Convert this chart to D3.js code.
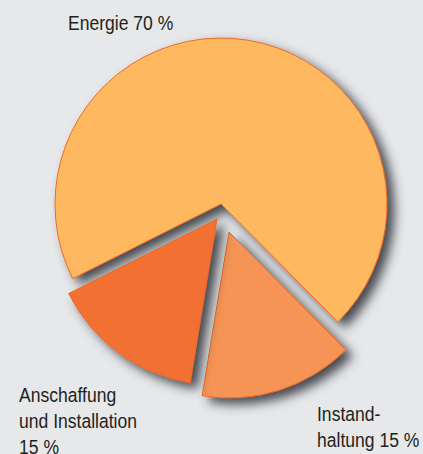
<!DOCTYPE html>
<html>
<head>
<meta charset="utf-8">
<script src="https://cdn.jsdelivr.net/npm/d3@7"></script>
<style>
  html,body{margin:0;padding:0;background:#e7e8ea;}
  svg{display:block;}
</style>
</head>
<body>
<svg id="chart"></svg>
<script>
// data
var categories = ['Energie', 'Instandhaltung', 'Anschaffung und Installation'];
var shares = [70, 15, 15];
var labelLines = [
  ['Energie 70 %'],
  ['Instand-', 'haltung 15 %'],
  ['Anschaffung', 'und Installation', '15 %']
];

// layout
var width = 423, height = 454;
var cx = 221, cy = 204, radius = 166;
var startDeg = -116.7;
var colors = ['#fdb860', '#f69454', '#f17032'];
// how far each slice is pulled out of the pie
var explode = [[0, 0], [8, 28], [-4, 15]];
var labelPos = [[68, 30], [317, 421], [19, 402]];
var lineH = 26;
var squeeze = 0.9; // condensed look, no narrow font installed

var svg = d3.select('#chart')
  .attr('width', width)
  .attr('height', height);

var defs = svg.append('defs');
var flt = defs.append('filter')
  .attr('id', 'shadow')
  .attr('x', '-20%').attr('y', '-20%')
  .attr('width', '150%').attr('height', '150%');
flt.append('feDropShadow')
  .attr('dx', 7).attr('dy', 6)
  .attr('stdDeviation', 5.5)
  .attr('flood-color', '#34373e')
  .attr('flood-opacity', 0.9);

var pie = d3.pie()
  .sort(null)
  .startAngle(startDeg * Math.PI / 180)
  .endAngle(startDeg * Math.PI / 180 + 2 * Math.PI);

var arc = d3.arc().innerRadius(0).outerRadius(radius);
var arcs = pie(shares);

var pieG = svg.append('g')
  .attr('transform', 'translate(' + cx + ',' + cy + ')');

pieG.selectAll('path')
  .data(arcs)
  .enter()
  .append('path')
  .attr('d', arc)
  .attr('transform', function(d, i){
    return 'translate(' + explode[i][0] + ',' + explode[i][1] + ')';
  })
  .attr('fill', function(d, i){ return colors[i]; })
  .attr('stroke', '#ee6a24')
  .attr('stroke-width', 1)
  .attr('filter', 'url(#shadow)');

// labels
var labG = svg.append('g')
  .style('font-family', '"Liberation Sans", Arial, sans-serif')
  .style('font-size', '19.5px')
  .attr('fill', '#231f20');

labelLines.forEach(function(lines, i){
  var t = labG.append('text')
    .attr('transform', 'translate(' + labelPos[i][0] + ',' + labelPos[i][1] + ') scale(' + squeeze + ',1)');
  lines.forEach(function(s, j){
    t.append('tspan')
      .attr('x', 0)
      .attr('y', j * lineH)
      .text(s);
  });
});
</script>
</body>
</html>
